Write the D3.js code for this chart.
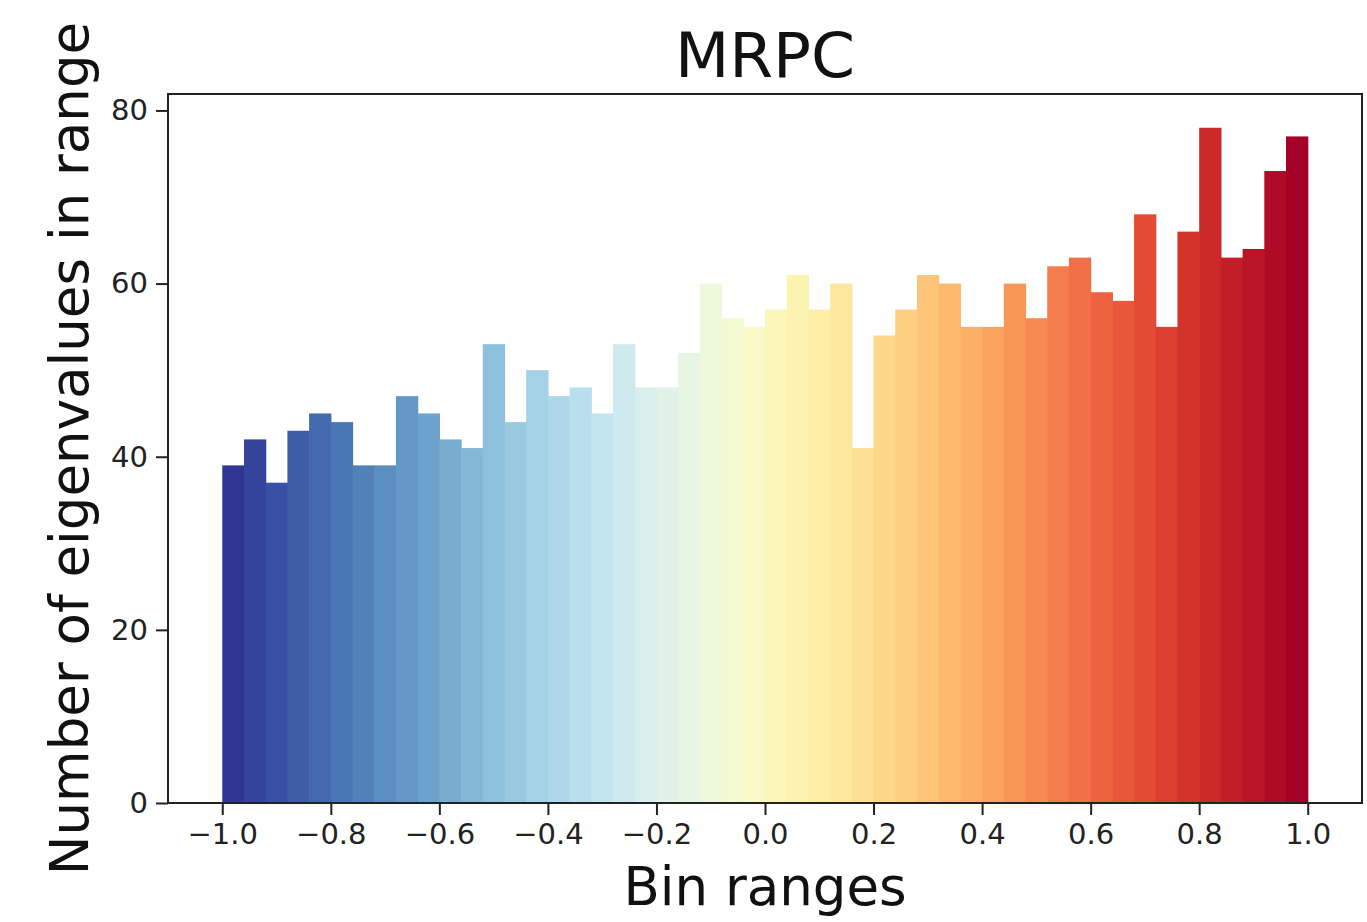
<!DOCTYPE html>
<html>
<head>
<meta charset="utf-8">
<script src="https://cdn.jsdelivr.net/npm/d3@7/dist/d3.min.js"></script>
<style>
  html, body { margin: 0; padding: 0; background: #fff; }
  svg { display: block; font-family: "DejaVu Sans", sans-serif; }
</style>
</head>
<body>
<svg id="chart" width="1367" height="922"></svg>
<script>
// ---- data ----
const title = "MRPC";
const xLabel = "Bin ranges";
const yLabel = "Number of eigenvalues in range";
const binStart = -1.0;
const binWidth = 0.04;
const counts = [39, 42, 37, 43, 45, 44, 39, 39, 47, 45,
                42, 41, 53, 44, 50, 47, 48, 45, 53, 48,
                48, 52, 60, 56, 55, 57, 61, 57, 60, 41,
                54, 57, 61, 60, 55, 55, 60, 56, 62, 63,
                59, 58, 68, 55, 66, 78, 63, 64, 73, 77];
const xTicks = [-1.0, -0.8, -0.6, -0.4, -0.2, 0.0, 0.2, 0.4, 0.6, 0.8, 1.0];
const yTicks = [0, 20, 40, 60, 80];

// ---- layout ----
const svg = d3.select("#chart");
const m = { left: 168, right: 1362, top: 94, bottom: 803 };

const x = d3.scaleLinear().domain([-1.1, 1.1]).range([m.left, m.right]);
const y = d3.scaleLinear().domain([0, 81.9]).range([m.bottom, m.top]);

const bins = counts.map((c, i) => ({ x0: binStart + i * binWidth, x1: binStart + (i + 1) * binWidth, c, i }));
const color = i => d3.interpolateRdYlBu(1 - i / (counts.length - 1));

svg.append("g").selectAll("rect").data(bins).join("rect")
  .attr("x", d => x(d.x0))
  .attr("width", d => x(d.x1) - x(d.x0) + 0.6)
  .attr("y", d => y(d.c))
  .attr("height", d => y(0) - y(d.c))
  .attr("fill", d => color(d.i));

const fmt = v => (v < 0 ? "\u2212" : "") + Math.abs(v).toFixed(1);

// x axis
const xAxis = svg.append("g").attr("transform", `translate(0,${m.bottom})`)
  .call(d3.axisBottom(x).tickValues(xTicks).tickFormat(fmt).tickSize(12).tickPadding(8));
xAxis.select(".domain").remove();
xAxis.selectAll(".tick line").attr("stroke", "#222").attr("stroke-width", 2);
xAxis.selectAll("text").attr("font-size", 29).attr("fill", "#222").attr("font-family", "DejaVu Sans");

// y axis
const yAxis = svg.append("g").attr("transform", `translate(${m.left},0)`)
  .call(d3.axisLeft(y).tickValues(yTicks).tickSize(12).tickPadding(8));
yAxis.select(".domain").remove();
yAxis.selectAll(".tick line").attr("stroke", "#222").attr("stroke-width", 2);
yAxis.selectAll("text").attr("font-size", 29).attr("fill", "#222").attr("font-family", "DejaVu Sans");

// frame
svg.append("rect")
  .attr("x", m.left).attr("y", m.top)
  .attr("width", m.right - m.left).attr("height", m.bottom - m.top)
  .attr("fill", "none").attr("stroke", "#222").attr("stroke-width", 2);

// title
svg.append("text").attr("x", (m.left + m.right) / 2).attr("y", 77)
  .attr("text-anchor", "middle").attr("font-size", 63).attr("fill", "#111").text(title);

// x label
svg.append("text").attr("x", (m.left + m.right) / 2).attr("y", 905)
  .attr("text-anchor", "middle").attr("font-size", 53).attr("fill", "#111").text(xLabel);

// y label
svg.append("text").attr("transform", `translate(88,${(m.top + m.bottom) / 2}) rotate(-90)`)
  .attr("text-anchor", "middle").attr("font-size", 53).attr("fill", "#111").text(yLabel);
</script>
</body>
</html>
